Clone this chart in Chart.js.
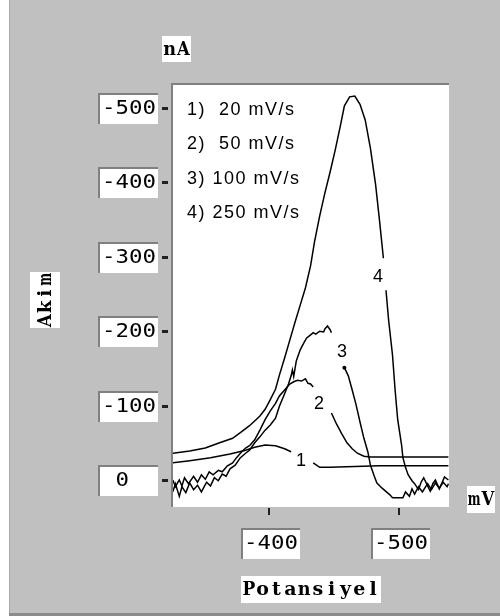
<!DOCTYPE html>
<html><head><meta charset="utf-8">
<script src="https://cdn.jsdelivr.net/npm/chart.js@4/dist/chart.umd.min.js"></script>
<style>html,body{margin:0;padding:0;background:#fff;overflow:hidden}#wrap{width:500px;height:616px;position:relative}</style>
</head><body><div id="wrap"><canvas id="c" width="500" height="616"></canvas></div>
<script>
// Potential (mV) and current (nA); null = gap left for the curve number
const potential1 = [-326,-339,-355,-370,-382,-389,-397,-405,-412,-417,null,-434,-439,-447,-485,-538];
const current1   = [-23,-26,-30,-35,-40,-44,-47,-46,-42,-38,null,-23,-17,-17,-19,-19];

const potential2 = [-326,-328,-331,-333,-335,-338,-342,-345,-348,-351,-354,-357,-361,-364,-368,-372,-375,-379,-382,-385,-389,-393,-397,-401,-405,-408,-412,-416,-419,-422,-425,-428,-430,-432,-434,null,-448,-452,-456,-460,-464,-468,-473,-478,-538];
const current2   = [0,9,0,8,-3,5,-5,3,-7,-1,-11,-7,-13,-11,-19,-23,-30,-38,-43,-46,-54,-67,-81,-93,-103,-113,-121,-129,-132,-134,-133,-136,-130,-129,-125,null,-90,-75,-62,-50,-42,-36,-32,-31,-31];

const potential3 = [-326,-328,-331,-333,-336,-339,-342,-345,-348,-352,-355,-358,-361,-364,-367,-370,-374,-378,-382,-385,-389,-393,-397,-401,-405,-408,-412,-415,-417,-418,-419,-421,-424,-427,-429,-432,-434,-436,-439,-442,-443,-445,-447,-448,null,-458,-461,-464,-467,-470,-473,-476,-478,-481,-483,-487,-491,-493,-495,-499,-503,-505,-508,-510,-512,-515,-518,-522,-525,-528,-531,-534,-537,-538];
const current3   = [16,5,22,9,17,4,13,7,16,3,8,-3,1,-8,-5,-15,-20,-30,-36,-40,-50,-58,-67,-74,-83,-99,-116,-129,-140,-148,-139,-160,-175,-185,-191,-195,-198,-196,-200,-199,-203,-207,-202,-198,null,-151,-140,-121,-101,-78,-56,-38,-20,-5,4,11,17,20,24,24,24,16,22,12,19,9,16,5,13,4,11,3,9,5];

const potential4 = [-326,-339,-351,-362,-372,-379,-385,-390,-393,-397,-401,-405,-408,-412,-416,-420,-424,-428,-432,-435,-439,-443,-447,-451,-455,-458,-462,-466,-470,-474,-478,-482,-485,-488,null,-490,-492,-495,-497,-499,-502,-503,-505,-507,-510,-512,-515,-517,-519,-522,-524,-526,-528,-531,-533,-535,-538];
const current4   = [-36,-39,-43,-50,-56,-65,-73,-81,-86,-95,-108,-122,-141,-164,-188,-212,-235,-258,-288,-320,-355,-386,-414,-444,-477,-503,-515,-516,-505,-484,-446,-397,-349,-298,null,-255,-215,-168,-121,-81,-47,-30,-17,-7,1,5,13,3,-3,8,15,5,0,12,4,-4,0];

const yTickValues = [0,-100,-200,-300,-400,-500];
const yTickLabels = [" 0","-100","-200","-300","-400","-500"];
const xTickValues = [-400,-500];
const xTickLabels = ["-400","-500"];

const legendLines = ["1)  20 mV/s","2)  50 mV/s","3) 100 mV/s","4) 250 mV/s"];
const curveTags = ["1","2","3","4"];
const tagPotential = [-424.6,-438.5,-456.2,-483.8];
const tagCurrent = [-26.9,-103.5,-173.4,-274.2];

const xTitle = "Potansiyel", yTitle = "Akim", xUnit = "mV", yUnit = "nA";

function pts(xs, ys){
  return xs.map((x,i)=> (x===null ? {x: xs[i-1], y: null} : {x: x, y: ys[i]}));
}

const titleFont = 'bold 19px "DejaVu Serif", "Liberation Serif", serif';
const CELL = 13.8;

// draw text as fixed-width cells (typewriter look), centred on cx
function monoText(ctx, s, cx, cy){
  const x0 = cx - s.length*CELL/2;
  ctx.textAlign = 'center'; ctx.textBaseline = 'middle';
  for(let i=0;i<s.length;i++){
    const w = ctx.measureText(s[i]).width;
    const sx = w > CELL-1 ? (CELL-1)/w : 1;
    ctx.save(); ctx.translate(x0 + CELL*(i+0.5), cy); ctx.scale(sx,1);
    ctx.fillText(s[i], 0, 0); ctx.restore();
  }
}

function box(ctx,x,y,w,h,bevel){
  ctx.fillStyle = '#fff';
  ctx.fillRect(x,y,w,h);
  if(bevel){
    ctx.fillStyle = '#808080';
    ctx.fillRect(x,y,w,2);
    ctx.fillRect(x,y,2,h);
  }
}

const decor = {
  id:'decor',
  beforeDraw(chart){
    const ctx = chart.ctx, a = chart.chartArea;
    const xs = chart.scales.x, ys = chart.scales.y;
    ctx.save();
    ctx.fillStyle = '#fff'; ctx.fillRect(0,0,500,616);
    ctx.fillStyle = '#c0c0c0'; ctx.fillRect(10,0,490,613);
    ctx.fillStyle = '#a8a8a8'; ctx.fillRect(9,0,1,613);
    ctx.fillStyle = '#8c8c8c'; ctx.fillRect(9,613,491,3);
    // plot area
    ctx.fillStyle = '#fff'; ctx.fillRect(a.left,a.top,a.right-a.left,a.bottom-a.top);
    ctx.fillStyle = '#808080';
    ctx.fillRect(a.left-2,a.top-2,a.right-a.left+2,2);
    ctx.fillRect(a.left-2,a.top-2,2,a.bottom-a.top+2);
    // y ticks
    ctx.textBaseline = 'middle'; ctx.textAlign = 'left';
    yTickValues.forEach((v,i)=>{
      const py = Math.round(ys.getPixelForValue(v));
      ctx.fillStyle = '#202020';
      ctx.fillRect(a.left-11, py-1, 6, 3);
      box(ctx, 98, py-15, 60, 31, true);
      ctx.save();
      ctx.translate(102, py+1.5); ctx.scale(1.18,1);
      ctx.fillStyle = '#000';
      ctx.font = '19px "DejaVu Sans Mono", monospace';
      ctx.fillText(yTickLabels[i], 0, 0);
      ctx.restore();
    });
    // x ticks
    xTickValues.forEach((v,i)=>{
      const px = Math.round(xs.getPixelForValue(v));
      ctx.fillStyle = '#202020';
      ctx.fillRect(px-1, a.bottom+1, 2, 7);
      box(ctx, px-28, 528, 59, 31, true);
      ctx.save();
      ctx.translate(px-25, 544.5); ctx.scale(1.18,1);
      ctx.fillStyle = '#000';
      ctx.font = '19px "DejaVu Sans Mono", monospace';
      ctx.fillText(xTickLabels[i], 0, 0);
      ctx.restore();
    });
    // titles
    ctx.font = titleFont;
    box(ctx,162,36,29,26,false); ctx.fillStyle='#000'; monoText(ctx,yUnit,176.5,50);
    box(ctx,467,486,28,27,false); ctx.fillStyle='#000'; monoText(ctx,xUnit,481,500);
    box(ctx,241,576,140,27,false); ctx.fillStyle='#000'; monoText(ctx,xTitle,311,590);
    box(ctx,30,272,30,56,false);
    ctx.save(); ctx.translate(45,300); ctx.rotate(-Math.PI/2);
    ctx.fillStyle='#000'; monoText(ctx,yTitle,0,1); ctx.restore();
    ctx.restore();
  },
  afterDatasetsDraw(chart){
    const ctx = chart.ctx;
    const xs = chart.scales.x, ys = chart.scales.y;
    ctx.save();
    ctx.fillStyle = '#000';
    ctx.font = '18px "Liberation Sans", Arial, sans-serif';
    ctx.letterSpacing = '1.5px';
    ctx.textAlign = 'left'; ctx.textBaseline = 'alphabetic';
    legendLines.forEach((t,i)=> ctx.fillText(t, 187, 115 + i*34.3));
    ctx.letterSpacing = '0px';
    ctx.textAlign = 'center'; ctx.textBaseline = 'middle';
    curveTags.forEach((t,i)=> ctx.fillText(t, xs.getPixelForValue(tagPotential[i]), ys.getPixelForValue(tagCurrent[i])+1));
    // start dot of curve 3 after its label
    const d = chart.getDatasetMeta(2).data;
    const k = potential3.indexOf(null)+1;
    ctx.beginPath(); ctx.arc(d[k].x, d[k].y, 2, 0, Math.PI*2); ctx.fill();
    ctx.restore();
  }
};

const ds = (xs,ys)=>({data: pts(xs,ys), borderColor:'#000', borderWidth:1.5, pointRadius:0, tension:0, spanGaps:false, fill:false});

new Chart(document.getElementById('c'), {
  type:'line',
  data:{datasets:[ds(potential1,current1),ds(potential2,current2),ds(potential3,current3),ds(potential4,current4)]},
  options:{
    responsive:false, animation:false, devicePixelRatio:1,
    layout:{padding:{left:173,right:51,top:85,bottom:109}},
    scales:{
      x:{type:'linear', min:-538.46, max:-326.15, reverse:true, display:false},
      y:{type:'linear', min:-530.9, max:36.3, reverse:true, display:false}
    },
    plugins:{legend:{display:false}, tooltip:{enabled:false}}
  },
  plugins:[decor]
});
</script></body></html>
